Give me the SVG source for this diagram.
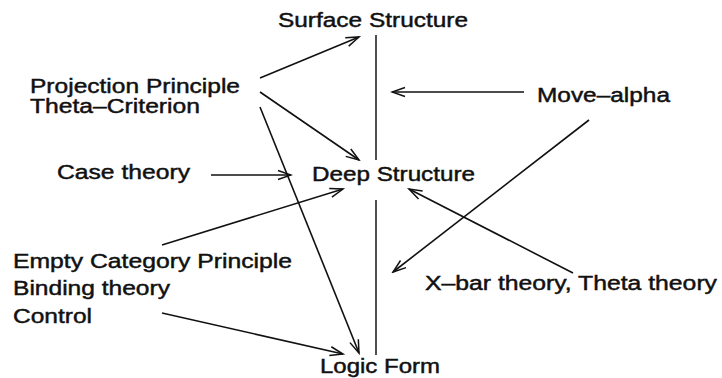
<svg xmlns="http://www.w3.org/2000/svg" width="722" height="378" viewBox="0 0 722 378">
<defs>
<marker id="arr" markerUnits="userSpaceOnUse" markerWidth="16" markerHeight="12" viewBox="-14 -6 16 12" refX="0" refY="0" orient="auto">
<path d="M-13,-4.5 L0,0 L-13,4.5" fill="none" stroke="#111" stroke-width="1.5"/>
</marker>
<style>
text{font-family:"Liberation Sans",Arial,Helvetica,sans-serif;font-size:20px;fill:#111;stroke:#111;stroke-width:0.45}
.c{stroke:#111;stroke-width:1.6;fill:none;marker-end:url(#arr)}
.v{stroke:#222;stroke-width:1.6;fill:none}
</style>
</defs>
<rect width="722" height="378" fill="#fff"/>
<g id="surface"><text x="278" y="27" textLength="190" lengthAdjust="spacingAndGlyphs">Surface Structure</text></g>
<g id="projection"><text x="30" y="93" textLength="210" lengthAdjust="spacingAndGlyphs">Projection Principle</text><text x="30" y="113" textLength="170" lengthAdjust="spacingAndGlyphs">Theta–Criterion</text></g>
<g id="case"><text x="57" y="179" textLength="133" lengthAdjust="spacingAndGlyphs">Case theory</text></g>
<g id="deep"><text x="312" y="181" textLength="163" lengthAdjust="spacingAndGlyphs">Deep Structure</text></g>
<g id="move"><text x="537" y="102" textLength="133" lengthAdjust="spacingAndGlyphs">Move–alpha</text></g>
<g id="ecp"><text x="13" y="268" textLength="279" lengthAdjust="spacingAndGlyphs">Empty Category Principle</text><text x="13" y="295" textLength="157" lengthAdjust="spacingAndGlyphs">Binding theory</text><text x="13" y="323" textLength="79" lengthAdjust="spacingAndGlyphs">Control</text></g>
<g id="xbar"><text x="425" y="290" textLength="292" lengthAdjust="spacingAndGlyphs">X–bar theory, Theta theory</text></g>
<g id="logic"><text x="320" y="373" textLength="120" lengthAdjust="spacingAndGlyphs">Logic Form</text></g>
<g id="connectors">
<line class="v" x1="376" y1="35" x2="376" y2="160"/>
<line class="v" x1="376" y1="200" x2="376" y2="355"/>
<line class="c" x1="260" y1="78" x2="359" y2="37"/>
<line class="c" x1="260" y1="92" x2="359" y2="160"/>
<line class="c" x1="260" y1="107" x2="359" y2="353"/>
<line class="c" x1="211" y1="175" x2="291" y2="175"/>
<line class="c" x1="162" y1="245" x2="343" y2="189"/>
<line class="c" x1="162" y1="313" x2="343" y2="354"/>
<line class="c" x1="524" y1="92" x2="392" y2="92"/>
<line class="c" x1="589" y1="120" x2="393" y2="272"/>
<line class="c" x1="573" y1="273" x2="409" y2="189"/>
</g>
</svg>
